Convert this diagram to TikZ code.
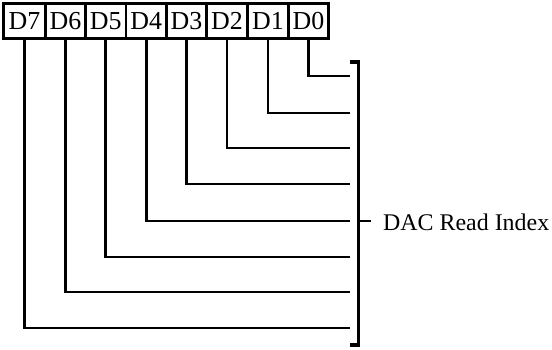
\documentclass[tikz,border=0pt]{standalone}
\usepackage{fontspec}
\setmainfont{Liberation Serif}
\begin{document}
\begin{tikzpicture}[x=1bp,y=-1bp,
  lw/.style={line width=2.9bp},
  bitbox/.style={draw,lw,minimum height=35bp,inner sep=0pt,font=\fontsize{26}{26}\selectfont,anchor=north west},
  trace/.style={lw},
  bracketline/.style={line width=3.4bp}]
\useasboundingbox (0,0) rectangle (552,349);
% bit boxes
\node[bitbox,minimum width=42bp] (b7) at (2,2) {D7};
\node[bitbox,minimum width=40bp] (b6) at (44,2) {D6};
\node[bitbox,minimum width=40.5bp] (b5) at (84,2) {D5};
\node[bitbox,minimum width=40.5bp] (b4) at (124.5,2) {D4};
\node[bitbox,minimum width=40bp] (b3) at (165,2) {D3};
\node[bitbox,minimum width=41bp] (b2) at (205,2) {D2};
\node[bitbox,minimum width=41bp] (b1) at (246,2) {D1};
\node[bitbox,minimum width=40bp] (b0) at (287,2) {D0};
% trace end points
\coordinate (e0) at (350,76);
\coordinate (e1) at (350,113);
\coordinate (e2) at (350,148);
\coordinate (e3) at (350,184);
\coordinate (e4) at (350,221);
\coordinate (e5) at (350,257);
\coordinate (e6) at (350,292);
\coordinate (e7) at (350,328);
\foreach \i in {0,...,7}{
  \draw[trace] (b\i.south) |- (e\i);
}
% bracket
\coordinate (bt) at (358.5,62);
\coordinate (bb) at (358.5,345);
\coordinate (bm) at (358.5,221);
\draw[bracketline] ([xshift=-9bp]bt) -- (bt) -- (bb) -- ([xshift=-9bp]bb);
\node[font=\fontsize{24}{24}\selectfont,anchor=west,inner sep=0pt] (lab) at (383,222) {DAC Read Index};
\coordinate (tk) at (371,221);
\draw[trace] (bm) -- (tk);
\end{tikzpicture}
\end{document}
